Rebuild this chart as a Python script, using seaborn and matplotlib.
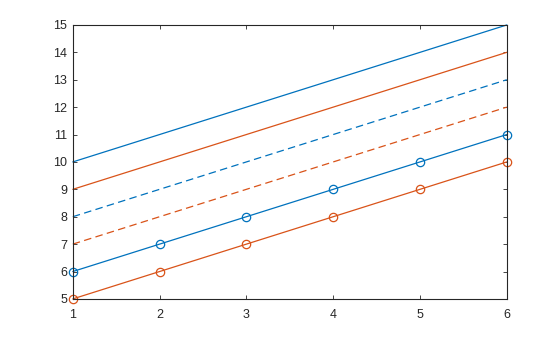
import matplotlib
matplotlib.use("Agg")
import matplotlib.pyplot as plt
import seaborn as sns
import pandas as pd

x = [1, 2, 3, 4, 5, 6]
blue_solid = [10, 11, 12, 13, 14, 15]
orange_solid = [9, 10, 11, 12, 13, 14]
blue_dashed = [8, 9, 10, 11, 12, 13]
orange_dashed = [7, 8, 9, 10, 11, 12]
blue_circles = [6, 7, 8, 9, 10, 11]
orange_circles = [5, 6, 7, 8, 9, 10]

BLUE = "#0072BD"
ORANGE = "#D95319"

sns.set_theme(style="white")
plt.rcParams['font.family'] = ['Liberation Sans', 'DejaVu Sans']

fig = plt.figure(figsize=(5.6, 3.37), dpi=100)
ax = fig.add_axes([0.130, 0.113, 0.775, 0.813])

series = [
    (blue_solid, BLUE, "-", None),
    (orange_solid, ORANGE, "-", None),
    (blue_dashed, BLUE, (0, (6, 3.5)), None),
    (orange_dashed, ORANGE, (0, (6, 3.5)), None),
    (blue_circles, BLUE, "-", "o"),
    (orange_circles, ORANGE, "-", "o"),
]
for ys, c, ls, mk in series:
    df = pd.DataFrame({"x": x, "y": ys})
    kw = {}
    if mk:
        kw = dict(marker="o", markersize=6, markerfacecolor="none",
                  markeredgecolor=c, markeredgewidth=0.9)
    sns.lineplot(data=df, x="x", y="y", ax=ax, color=c, linewidth=0.9,
                 linestyle=ls, clip_on=False, **kw)

ax.set_xlim(1, 6)
ax.set_ylim(5, 15)
ax.set_xticks(range(1, 7))
ax.set_yticks(range(5, 16))
ax.set_xlabel("")
ax.set_ylabel("")
for s in ax.spines.values():
    s.set_visible(True)
    s.set_color("#262626")
    s.set_linewidth(0.8)
ax.tick_params(direction="in", length=3, width=0.6, color="#262626",
               labelsize=9, labelcolor="#262626", top=True, right=True,
               left=True, bottom=True)
ax.tick_params(axis="x", pad=7)
ax.tick_params(axis="y", pad=4)
fig.savefig("out.png", dpi=100)
